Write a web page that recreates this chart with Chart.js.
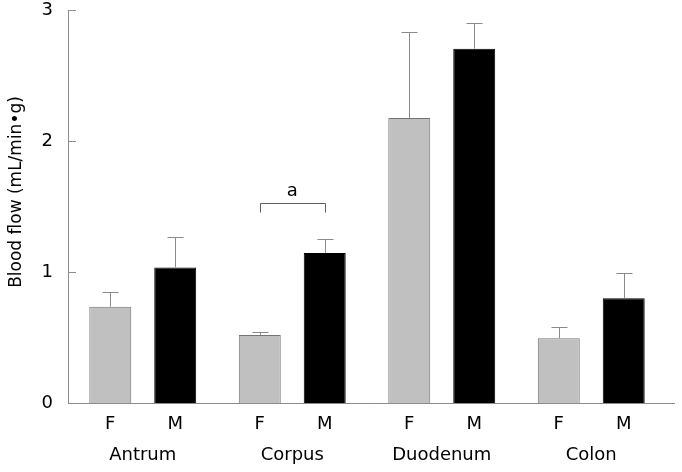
<!DOCTYPE html>
<html>
<head>
<meta charset="utf-8">
<script src="https://cdn.jsdelivr.net/npm/chart.js@4.4.1/dist/chart.umd.min.js"></script>
<style>
  html, body { margin: 0; padding: 0; background: #fff; }
  #wrap { width: 682px; height: 472px; }
</style>
</head>
<body>
<div id="wrap"><canvas id="flowChart"></canvas></div>
<script>
// data
const groups = ['Antrum', 'Corpus', 'Duodenum', 'Colon'];
const sexLabels = ['F', 'M'];
const femaleMean = [0.735, 0.52, 2.175, 0.495];
const femaleSD = [0.11, 0.02, 0.655, 0.085];
const maleMean = [1.035, 1.145, 2.705, 0.80];
const maleSD = [0.23, 0.11, 0.195, 0.19];
const yTicks = [0, 1, 2, 3];
const yTitle = 'Blood flow (mL/min\u2022g)';
// significance bracket over Corpus
const bracketGroup = 1;
const bracketValue = 1.525;
const bracketText = 'a';

const FONT = '"DejaVu Sans", Verdana, sans-serif';
const AXIS_GRAY = '#8c8c8c';

// error bars, F/M labels, inward ticks, bracket, long x baseline, y title
const extrasPlugin = {
    id: 'extras',
    afterDatasetsDraw(chart) {
        const ctx = chart.ctx;
        const y = chart.scales.y;
        const area = chart.chartArea;
        const sds = [femaleSD, maleSD];
        ctx.save();
        ctx.lineWidth = 1;

        // x baseline runs a little past the last category
        ctx.strokeStyle = AXIS_GRAY;
        const base = Math.round(y.getPixelForValue(0)) + 0.5;
        ctx.beginPath();
        ctx.moveTo(area.left, base);
        ctx.lineTo(chart.width - 7, base);
        ctx.stroke();

        ctx.strokeStyle = '#8a8a8a';
        chart.data.datasets.forEach((ds, di) => {
            chart.getDatasetMeta(di).data.forEach((bar, i) => {
                const top = y.getPixelForValue(ds.data[i]);
                const end = y.getPixelForValue(ds.data[i] + sds[di][i]);
                const x = Math.round(bar.x) + 0.5;
                ctx.beginPath();
                ctx.moveTo(x, top);
                ctx.lineTo(x, Math.round(end) + 0.5);
                ctx.moveTo(x - 8, Math.round(end) + 0.5);
                ctx.lineTo(x + 8, Math.round(end) + 0.5);
                ctx.stroke();

                // F / M under each bar
                ctx.fillStyle = '#000';
                ctx.font = '18px ' + FONT;
                ctx.textAlign = 'center';
                ctx.textBaseline = 'middle';
                ctx.fillText(sexLabels[di], bar.x, 424);
            });
        });

        // inward ticks on the y axis
        ctx.strokeStyle = AXIS_GRAY;
        yTicks.forEach(v => {
            const py = Math.round(y.getPixelForValue(v)) + 0.5;
            ctx.beginPath();
            ctx.moveTo(area.left, py);
            ctx.lineTo(area.left + 8, py);
            ctx.stroke();
        });

        // bracket
        const b0 = chart.getDatasetMeta(0).data[bracketGroup];
        const b1 = chart.getDatasetMeta(1).data[bracketGroup];
        const by = Math.round(y.getPixelForValue(bracketValue)) + 0.5;
        ctx.strokeStyle = '#606060';
        ctx.beginPath();
        ctx.moveTo(Math.round(b0.x) + 0.5, by + 9);
        ctx.lineTo(Math.round(b0.x) + 0.5, by);
        ctx.lineTo(Math.round(b1.x) + 0.5, by);
        ctx.lineTo(Math.round(b1.x) + 0.5, by + 9);
        ctx.stroke();
        ctx.fillStyle = '#000';
        ctx.font = '18px ' + FONT;
        ctx.textAlign = 'center';
        ctx.textBaseline = 'middle';
        ctx.fillText(bracketText, (b0.x + b1.x) / 2, by - 12);

        // y title, sits a bit above the middle like the original
        ctx.translate(17, 192);
        ctx.rotate(-Math.PI / 2);
        ctx.font = '17px ' + FONT;
        ctx.fillText(yTitle, 0, 0);
        ctx.restore();
    }
};

new Chart(document.getElementById('flowChart').getContext('2d'), {
    type: 'bar',
    data: {
        labels: groups,
        datasets: [
            {
                label: 'F',
                data: femaleMean,
                backgroundColor: '#c0c0c0',
                borderColor: '#747474',
                borderWidth: 1,
                categoryPercentage: 0.869,
                barPercentage: 0.646
            },
            {
                label: 'M',
                data: maleMean,
                backgroundColor: '#000000',
                borderColor: '#000000',
                borderWidth: 1,
                categoryPercentage: 0.869,
                barPercentage: 0.646
            }
        ]
    },
    options: {
        responsive: true,
        maintainAspectRatio: false,
        animation: false,
        layout: { padding: { top: 10, right: 16, left: 0, bottom: 0 } },
        plugins: {
            legend: { display: false },
            tooltip: { enabled: false }
        },
        scales: {
            x: {
                grid: { display: false, drawTicks: false },
                border: { display: false },
                ticks: {
                    color: '#000',
                    font: { family: FONT, size: 18 },
                    padding: 42,
                    maxRotation: 0
                },
                afterFit(scale) {
                    scale.height = 69;
                    scale.paddingLeft = 0;
                    scale.paddingRight = 0;
                }
            },
            y: {
                min: 0,
                max: 3,
                grid: { display: false, drawTicks: false },
                border: { color: AXIS_GRAY, width: 1 },
                afterBuildTicks(scale) {
                    scale.ticks = yTicks.map(v => ({ value: v }));
                },
                ticks: {
                    color: '#000',
                    font: { family: FONT, size: 18 },
                    padding: 15
                },
                afterFit(scale) {
                    scale.width = 68;
                    scale.paddingTop = 0;
                    scale.paddingBottom = 0;
                }
            }
        }
    },
    plugins: [extrasPlugin]
});
</script>
</body>
</html>
